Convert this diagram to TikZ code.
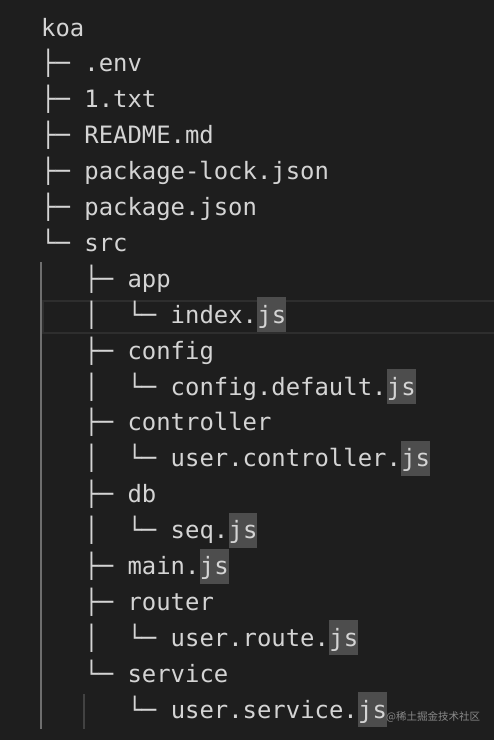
\documentclass[tikz,border=0pt]{standalone}
\usepackage{fontspec}
\newfontfamily\mono{DejaVu Sans Mono}
\newfontfamily\cjk{Noto Sans CJK SC}
\definecolor{bg}{HTML}{1E1E1E}
\definecolor{fg}{HTML}{D4D4D4}
\definecolor{jsbg}{HTML}{4D4D4D}
\definecolor{curline}{HTML}{2E2E2E}
\definecolor{guideA}{HTML}{6E6E6E}
\definecolor{guideB}{HTML}{424242}
\definecolor{wm}{HTML}{8A8A8A}
\tikzset{
  ln/.style={font=\mono\fontsize{23.9}{28}\selectfont, text=fg, inner sep=0pt, anchor=base west},
  jsbox/.style={ln, fill=jsbg, text height=26pt, text depth=9pt},
}
\begin{document}
\begin{tikzpicture}[x=1pt, y={(0,-1pt)}]
\fill[bg] (0,0) rectangle (494,740);
\useasboundingbox (0,0) rectangle (494,740);
% current line highlight
\draw[curline, line width=2pt] (43,300.5) rectangle (500,332.5);
% indent guides
\draw[guideA, line width=1.6pt] (41,262) coordinate (gA1) -- (41,729) coordinate (gA2);
\draw[guideB, line width=1.2pt] (84,694) coordinate (gB1) -- (84,729) coordinate (gB2);
% lines (baseline = 36 + 35.9*i), columns 14.4pt
\node[ln] (l0)  at (41,36)    {koa};
\node[ln] (l1)  at (41,71.9)  {├─~.env};
\node[ln] (l2)  at (41,107.8) {├─~1.txt};
\node[ln] (l3)  at (41,143.7) {├─~README.md};
\node[ln] (l4)  at (41,179.6) {├─~package-lock.json};
\node[ln] (l5)  at (41,215.5) {├─~package.json};
\node[ln] (l6)  at (41,251.4) {└─~src};
\node[ln] (l7)  at (84.2,287.3) {├─~app};
\node[ln] (l8)  at (84.2,323.2) {│~~└─~index.};
\node[jsbox] (j8) at (l8.base east) {js};
\node[ln] (l9)  at (84.2,359.1) {├─~config};
\node[ln] (l10) at (84.2,395.0) {│~~└─~config.default.};
\node[jsbox] (j10) at (l10.base east) {js};
\node[ln] (l11) at (84.2,430.9) {├─~controller};
\node[ln] (l12) at (84.2,466.8) {│~~└─~user.controller.};
\node[jsbox] (j12) at (l12.base east) {js};
\node[ln] (l13) at (84.2,502.7) {├─~db};
\node[ln] (l14) at (84.2,538.6) {│~~└─~seq.};
\node[jsbox] (j14) at (l14.base east) {js};
\node[ln] (l15) at (84.2,574.5) {├─~main.};
\node[jsbox] (j15) at (l15.base east) {js};
\node[ln] (l16) at (84.2,610.4) {├─~router};
\node[ln] (l17) at (84.2,646.3) {│~~└─~user.route.};
\node[jsbox] (j17) at (l17.base east) {js};
\node[ln] (l18) at (84.2,682.2) {└─~service};
\node[ln] (l19) at (127.4,718.1) {└─~user.service.};
\node[jsbox] (j19) at (l19.base east) {js};
% watermark
\node[font=\cjk\fontsize{10.5}{12}\selectfont, text=wm, inner sep=0pt, anchor=west] (wm) at (386,717) {@稀土掘金技术社区};
\end{tikzpicture}
\end{document}
